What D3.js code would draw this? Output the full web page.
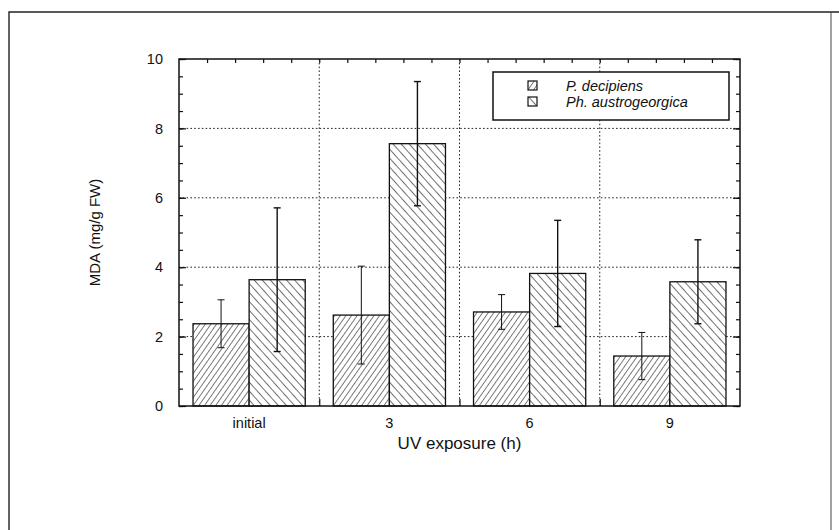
<!DOCTYPE html>
<html>
<head>
<meta charset="utf-8">
<script src="https://cdn.jsdelivr.net/npm/d3@7"></script>
<style>
  html, body { margin: 0; padding: 0; background: #fff; }
  svg { display: block; }
  text { font-family: "Liberation Sans", Arial, Helvetica, sans-serif; fill: #111; }
</style>
</head>
<body>
<svg id="chart" width="839" height="530"></svg>
<script>
// MDA content after UV exposure, two species
const categories = ["initial", "3", "6", "9"];
const seriesNames = ["P. decipiens", "Ph. austrogeorgica"];
const meanDecipiens = [2.37, 2.62, 2.71, 1.44];
const sdDecipiens   = [0.69, 1.41, 0.50, 0.68];
const meanAustro    = [3.64, 7.56, 3.82, 3.58];
const sdAustro      = [2.07, 1.79, 1.53, 1.21];
const yTickValues   = [0, 2, 4, 6, 8, 10];
const yGridValues   = [2, 4, 6, 8];

const rows = categories.map((c, i) => ({
  cat: c,
  vals: [
    { s: seriesNames[0], mean: meanDecipiens[i], sd: sdDecipiens[i] },
    { s: seriesNames[1], mean: meanAustro[i], sd: sdAustro[i] }
  ]
}));

const svg = d3.select("#chart");
const W = 839, H = 530;
const m = { left: 179, right: 740, top: 59, bottom: 406 };

// hatch patterns
const defs = svg.append("defs");
function hatch(id, spacing, angle, sw) {
  const p = defs.append("pattern")
    .attr("id", id).attr("patternUnits", "userSpaceOnUse")
    .attr("width", spacing).attr("height", spacing)
    .attr("patternTransform", `rotate(${angle})`);
  p.append("rect").attr("width", spacing).attr("height", spacing).attr("fill", "#fff");
  p.append("line").attr("x1", 0).attr("y1", 0).attr("x2", 0).attr("y2", spacing)
    .attr("stroke", "#111").attr("stroke-width", sw);
}
hatch("hatchA", 4.6, 35, 1.1);
hatch("hatchB", 6, -42, 1.2);
const fills = { [seriesNames[0]]: "url(#hatchA)", [seriesNames[1]]: "url(#hatchB)" };
const errWidth = { [seriesNames[0]]: 1, [seriesNames[1]]: 1.4 };

// outer frame
svg.append("path")
  .attr("d", `M9,${H} L9,12 L${W},12`)
  .attr("fill", "none").attr("stroke", "#222").attr("stroke-width", 1.4);
svg.append("line")
  .attr("x1", 831).attr("y1", 12).attr("x2", 831).attr("y2", H)
  .attr("stroke", "#444").attr("stroke-width", 1);

const x0 = d3.scaleBand().domain(categories).range([m.left, m.right]).paddingInner(0).paddingOuter(0);
const x1 = d3.scaleBand().domain(seriesNames).range([0, x0.bandwidth()]).paddingInner(0).paddingOuter(0.25);
const y = d3.scaleLinear().domain([0, 10]).range([m.bottom, m.top]);
// fine subdivision for top-edge ticks (five per group)
const xFine = d3.scaleLinear().domain([0, categories.length * 5]).range([m.left, m.right]);

// grid lines
const grid = svg.append("g").attr("stroke", "#222").attr("stroke-width", 1).attr("stroke-dasharray", "1.6,2.2");
grid.selectAll("line.h").data(yGridValues).join("line")
  .attr("class", "h")
  .attr("x1", m.left).attr("x2", m.right)
  .attr("y1", d => y(d)).attr("y2", d => y(d));
grid.selectAll("line.v").data(categories.slice(1)).join("line")
  .attr("class", "v")
  .attr("x1", d => x0(d)).attr("x2", d => x0(d))
  .attr("y1", m.top).attr("y2", m.bottom);

// bars
const groups = svg.append("g").selectAll("g").data(rows).join("g")
  .attr("transform", d => `translate(${x0(d.cat)},0)`);
groups.selectAll("rect").data(d => d.vals).join("rect")
  .attr("x", d => x1(d.s))
  .attr("y", d => y(d.mean))
  .attr("width", x1.bandwidth())
  .attr("height", d => y(0) - y(d.mean))
  .attr("fill", d => fills[d.s])
  .attr("stroke", "#111").attr("stroke-width", 1.3);

// error bars
const eb = groups.selectAll("g.err").data(d => d.vals).join("g").attr("class", "err")
  .attr("stroke", "#111").attr("stroke-width", d => errWidth[d.s]);
eb.append("line")
  .attr("x1", d => x1(d.s) + x1.bandwidth() / 2).attr("x2", d => x1(d.s) + x1.bandwidth() / 2)
  .attr("y1", d => y(d.mean + d.sd)).attr("y2", d => y(d.mean - d.sd));
eb.append("line")
  .attr("x1", d => x1(d.s) + x1.bandwidth() / 2 - 3.5).attr("x2", d => x1(d.s) + x1.bandwidth() / 2 + 3.5)
  .attr("y1", d => y(d.mean + d.sd)).attr("y2", d => y(d.mean + d.sd));
eb.append("line")
  .attr("x1", d => x1(d.s) + x1.bandwidth() / 2 - 3.5).attr("x2", d => x1(d.s) + x1.bandwidth() / 2 + 3.5)
  .attr("y1", d => y(d.mean - d.sd)).attr("y2", d => y(d.mean - d.sd));

// axes
const minorY = d3.range(0, 10.01, 0.5);
function styleAxis(g) {
  g.select(".domain").remove();
  g.selectAll(".tick line").attr("stroke", "#111").attr("stroke-width", 1.2);
  g.selectAll(".tick text").attr("font-size", 14.5).attr("fill", "#111");
}
svg.append("g").attr("transform", `translate(${m.left},0)`)
  .call(d3.axisLeft(y).tickValues(minorY).tickSize(-4).tickFormat(""))
  .call(styleAxis);
svg.append("g").attr("transform", `translate(${m.left},0)`)
  .call(d3.axisLeft(y).tickValues(yTickValues).tickSize(-7).tickPadding(16).tickFormat(d3.format("d")))
  .call(styleAxis);
svg.append("g").attr("transform", `translate(${m.right},0)`)
  .call(d3.axisRight(y).tickValues(minorY).tickSize(-4).tickFormat(""))
  .call(styleAxis);
svg.append("g").attr("transform", `translate(${m.right},0)`)
  .call(d3.axisRight(y).tickValues(yTickValues).tickSize(-7).tickFormat(""))
  .call(styleAxis);
svg.append("g").attr("transform", `translate(0,${m.top})`)
  .call(d3.axisTop(xFine).tickValues(d3.range(1, categories.length * 5)).tickSize(-4).tickFormat(""))
  .call(styleAxis);
svg.append("g").attr("transform", `translate(0,${m.bottom})`)
  .call(d3.axisBottom(xFine).tickValues(d3.range(5, categories.length * 5, 5)).tickSize(-7).tickFormat(""))
  .call(styleAxis);
svg.append("g").attr("transform", `translate(0,${m.bottom})`)
  .call(d3.axisBottom(x0).tickSize(0).tickPadding(12))
  .call(styleAxis);

// plot frame
svg.append("rect")
  .attr("x", m.left).attr("y", m.top)
  .attr("width", m.right - m.left).attr("height", m.bottom - m.top)
  .attr("fill", "none").attr("stroke", "#111").attr("stroke-width", 1.5);

// axis titles
svg.append("text")
  .attr("transform", `translate(100,${(m.top + m.bottom) / 2}) rotate(-90)`)
  .attr("text-anchor", "middle").attr("font-size", 15)
  .text("MDA (mg/g FW)");
svg.append("text")
  .attr("x", (m.left + m.right) / 2).attr("y", 449)
  .attr("text-anchor", "middle").attr("font-size", 17)
  .text("UV exposure (h)");

// legend
const lg = svg.append("g");
lg.append("rect").attr("x", 493).attr("y", 72).attr("width", 236).attr("height", 48)
  .attr("fill", "#fff").attr("stroke", "#111").attr("stroke-width", 1.5);
const items = lg.selectAll("g").data(seriesNames).join("g")
  .attr("transform", (d, i) => `translate(528,${81 + i * 16})`);
items.append("rect").attr("width", 9).attr("height", 9)
  .attr("fill", d => fills[d]).attr("stroke", "#111").attr("stroke-width", 1.2);
items.append("text").attr("x", 38).attr("y", 9.5)
  .attr("font-size", 14.5).attr("font-style", "italic")
  .text(d => d);
</script>
</body>
</html>
